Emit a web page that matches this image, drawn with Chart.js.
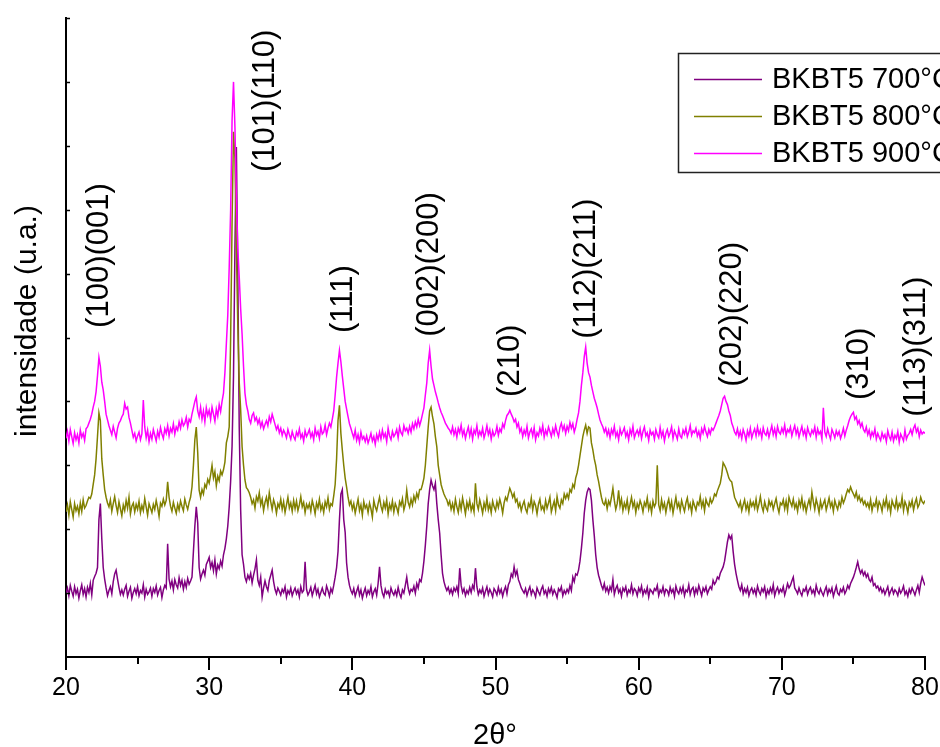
<!DOCTYPE html>
<html><head><meta charset="utf-8">
<script src="https://cdn.jsdelivr.net/npm/chart.js@4/dist/chart.umd.min.js"></script>
<style>html,body{margin:0;padding:0;background:#fff;}canvas{display:block;}</style>
</head><body>
<canvas id="c" width="940" height="747"></canvas>
<script>
// ---- data ----
const seriesNames = ['BKBT5 700°C', 'BKBT5 800°C', 'BKBT5 900°C'];
const seriesColors = ['#800080', '#808000', '#FF00FF'];
const thetaStart = 20, thetaStep = 0.1;
const xTickValues = [20, 25, 30, 35, 40, 45, 50, 55, 60, 65, 70, 75, 80];
const yTickValues = [100, 200, 300, 400, 500, 600, 700, 800, 900, 1000];

// intensity (a.u.), one value every 0.1° from 20.0 to 80.0
const int700 = [
100,108,96,112,103,95,110,99,106,92,
104,113,98,107,94,109,101,115,97,120,
126,131,140,215,240,185,140,122,108,96,
104,110,99,118,130,136,122,109,98,105,
97,106,112,95,103,109,92,101,107,99,
110,96,104,100,113,94,106,98,102,108,
95,107,101,111,97,104,109,93,105,112,
108,177,122,110,119,105,121,113,108,124,
112,120,106,118,109,123,114,119,125,165,
205,235,210,140,122,130,136,128,145,150,
156,140,148,135,152,130,144,138,150,142,
160,170,185,205,235,275,330,440,640,798,
600,360,230,160,145,125,118,128,122,131,
116,128,138,152,120,112,125,94,108,119,
110,104,120,128,136,118,106,99,108,103,
97,106,101,110,94,104,99,108,96,103,
108,99,105,94,110,101,104,149,106,97,
102,109,96,104,112,99,106,94,101,108,
100,97,111,104,95,107,101,112,125,140,
165,215,255,262,215,195,147,125,112,104,
99,107,95,103,110,97,105,92,101,108,
96,104,99,110,94,102,107,97,115,141,
112,100,94,106,99,103,95,108,101,97,
104,96,109,99,93,105,100,112,125,108,
99,106,103,111,100,115,108,121,118,131,
150,175,205,240,262,277,268,262,272,240,
215,194,160,131,118,110,104,109,100,106,
98,108,103,110,99,139,112,101,107,96,
104,99,109,101,112,106,139,110,98,105,
100,108,95,103,110,98,106,101,94,107,
103,97,109,100,106,95,104,110,99,113,
118,130,125,141,128,135,121,115,108,104,
100,107,96,104,110,98,105,101,94,108,
102,97,106,111,99,104,95,107,101,109,
98,105,100,93,107,103,110,96,104,99,
106,101,112,104,125,118,130,128,136,150,
170,194,225,245,258,264,262,245,215,190,
160,140,128,120,112,106,115,103,109,100,
110,104,121,98,107,112,101,106,95,108,
103,110,97,105,101,113,99,107,104,96,
108,102,111,97,105,100,109,94,106,103,
99,107,104,112,96,105,101,110,98,106,
104,97,109,101,106,95,111,103,99,108,
101,110,96,105,102,113,98,106,109,97,
107,100,112,104,96,108,103,110,99,105,
110,106,120,114,118,125,122,131,136,141,
150,165,180,191,185,190,165,145,131,120,
110,104,113,99,107,101,109,96,104,108,
100,106,97,111,103,98,107,102,110,95,
105,99,108,101,113,96,104,109,100,106,
102,110,97,105,115,108,112,119,125,108,
104,99,108,101,96,106,103,110,98,105,
109,100,105,97,112,103,99,107,101,96,
104,110,98,106,101,108,95,103,111,100,
97,106,102,109,99,104,112,107,115,120,
125,132,140,149,138,131,136,128,133,125,
130,121,118,125,112,115,108,111,104,109,
101,106,98,104,110,97,103,108,99,105,
102,96,107,100,104,111,98,103,95,106,
100,108,103,97,105,112,101,115,125,118,
112];

const int800 = [
227,238,222,243,231,219,240,229,236,224,
241,228,246,233,237,244,250,248,255,270,
285,310,345,382,370,310,285,262,250,241,
235,246,228,240,251,237,226,243,232,221,
238,229,245,233,250,224,236,241,227,239,
231,244,226,237,229,248,235,222,240,233,
226,239,231,245,234,220,241,236,247,238,
245,274,250,236,228,242,233,225,239,230,
244,236,229,247,238,231,242,250,266,300,
340,360,320,261,250,262,255,270,265,278,
272,285,300,280,290,268,283,276,291,285,
293,305,335,345,360,500,680,822,780,640,
520,430,387,329,300,277,265,262,257,250,
240,246,233,251,244,257,238,247,229,242,
250,236,257,243,231,246,238,225,240,234,
247,231,243,226,238,250,233,241,228,245,
232,244,229,238,251,235,242,226,239,233,
240,228,245,236,224,241,233,247,230,238,
226,243,235,249,231,240,237,252,270,310,
370,394,350,324,300,280,266,250,238,244,
231,240,225,236,247,229,238,222,243,233,
238,226,241,232,219,245,235,229,240,250,
236,228,242,233,246,224,239,231,244,227,
240,234,225,243,237,248,230,239,261,242,
235,247,238,252,244,256,249,262,262,270,
280,300,330,360,385,391,376,365,345,329,
300,285,270,262,255,250,246,238,244,231,
240,228,247,235,226,243,231,249,237,224,
242,233,245,229,238,227,272,240,231,246,
236,225,241,232,248,230,239,226,244,235,
229,243,234,247,238,225,241,250,245,255,
264,258,250,256,243,247,235,241,229,238,
244,232,226,240,235,249,230,243,237,224,
239,247,231,236,228,245,233,241,250,227,
236,244,229,251,238,233,246,240,255,248,
255,248,262,258,270,265,280,288,300,315,
330,345,355,363,350,360,358,335,324,310,
300,285,275,262,250,241,238,246,232,244,
238,250,264,245,231,240,261,236,247,229,
241,233,246,228,239,250,235,243,226,240,
233,245,238,227,242,236,249,231,240,226,
244,235,241,300,238,229,246,233,241,226,
239,247,232,243,225,238,250,234,241,229,
245,236,228,241,249,233,240,226,244,237,
230,242,238,251,235,244,229,247,240,236,
248,241,246,255,252,260,266,272,285,304,
300,295,288,280,276,274,262,250,245,240,
235,243,229,238,246,231,240,227,244,236,
242,233,247,230,239,251,236,228,243,234,
229,245,237,243,231,240,248,235,226,241,
238,246,232,244,229,250,242,236,247,233,
240,228,245,236,249,232,241,227,238,246,
235,258,243,231,247,238,226,244,233,240,
246,230,239,249,235,242,228,245,237,231,
243,236,250,241,247,255,262,258,266,260,
255,250,258,246,252,243,248,239,244,236,
241,233,246,229,240,236,247,231,243,238,
228,244,236,249,232,241,226,245,238,233,
247,231,240,235,250,229,243,237,226,242,
236,245,230,241,248,234,239,250,243,240,
245];

const int900 = [
342,353,338,356,345,334,351,340,348,335,
355,344,350,339,357,360,366,372,380,391,
400,415,440,469,455,430,418,400,380,371,
362,355,348,361,352,343,358,366,370,376,
380,397,388,391,375,366,355,344,350,338,
346,352,340,349,402,360,343,355,337,350,
341,356,347,338,353,344,359,349,342,357,
350,362,346,358,352,365,349,360,355,368,
358,371,362,366,375,360,372,368,380,390,
400,407,385,376,391,372,385,368,390,378,
386,372,391,380,369,388,377,395,384,400,
413,445,490,535,610,700,840,900,829,720,
640,595,545,505,455,413,395,385,372,366,
378,382,370,375,365,372,360,368,357,364,
370,362,376,368,380,372,364,356,362,351,
358,347,355,350,343,356,348,341,353,345,
340,352,346,357,343,349,338,354,345,350,
356,344,351,340,358,347,353,342,360,349,
352,363,348,358,366,360,372,385,410,438,
460,480,462,440,420,400,388,376,365,358,
350,343,355,339,348,336,352,341,345,337,
346,335,342,350,338,345,333,348,340,352,
341,355,344,350,337,358,346,340,353,345,
349,356,343,360,351,347,362,354,358,350,
361,352,365,357,368,360,372,362,370,380,
390,410,429,460,480,455,435,425,415,407,
398,390,383,378,372,366,362,358,355,350,
360,348,356,344,358,351,363,347,355,342,
352,360,346,357,341,355,349,362,345,353,
347,358,343,351,362,348,356,341,354,346,
350,361,347,357,352,365,359,370,378,381,
386,380,375,368,372,360,366,352,358,345,
355,348,361,343,352,357,346,359,340,351,
346,358,350,362,344,355,348,360,353,345,
357,349,362,352,345,359,366,355,362,350,
361,354,367,358,365,352,360,372,382,400,
425,445,470,485,460,445,438,425,415,405,
398,390,380,371,365,360,352,358,347,355,
343,356,349,361,345,352,340,357,348,353,
359,345,352,340,356,348,361,343,350,355,
347,357,342,353,360,346,351,339,355,348,
352,341,356,348,343,359,345,353,338,350,
356,345,351,360,342,354,348,341,357,346,
343,355,349,358,345,352,362,347,354,351,
358,346,353,342,357,350,361,352,345,356,
349,358,355,360,366,372,378,385,395,405,
408,400,395,385,378,366,360,352,348,357,
345,353,342,356,349,339,354,346,358,343,
351,357,346,360,348,355,343,359,350,347,
356,344,353,362,348,357,345,361,352,349,
358,351,363,347,356,352,360,346,355,362,
349,357,344,353,361,348,355,343,359,351,
346,355,350,360,344,357,349,353,341,390,
352,345,357,348,341,356,350,343,354,347,
353,342,349,358,346,355,362,370,376,380,
383,372,376,365,370,360,366,356,352,360,
348,355,343,352,346,357,341,350,344,339,
351,343,348,337,354,345,340,352,338,347,
342,353,336,349,344,338,355,341,347,350,
356,348,358,363,352,358,345,355,349,352,
350];

// reflection labels: text, 2θ position, intensity at the start of the (vertical) text
const peakLabels = ['(100)(001)', '(101)(110)', '(111)', '(002)(200)', '(210)', '(112)(211)', '(202)(220)', '(310)', '(113)(311)'];
const peakTheta  = [22.37, 33.90, 39.35, 45.42, 51.01, 56.32, 66.52, 75.39, 79.37];
const peakLevel  = [515, 759, 507, 501, 407, 498, 423, 402, 376];

const xTitle = '2θ°';
const yTitle = 'intensidade (u.a.)';

// ---- build ----
const FONT = "'Liberation Sans', Arial, Helvetica, sans-serif";
const seriesValues = [int700, int800, int900];
const theta = int700.map((_, i) => Math.round((thetaStart + i * thetaStep) * 10) / 10);

const datasets = seriesValues.map((vals, k) => ({
  label: seriesNames[k],
  data: vals.map((v, i) => ({x: theta[i], y: v})),
  borderColor: seriesColors[k],
  backgroundColor: seriesColors[k],
  borderWidth: 1.5,
  pointRadius: 0,
  tension: 0,
  fill: false,
  order: 3 - k
}));

const decor = {
  id: 'decor',
  afterDraw(chart) {
    const ctx = chart.ctx, xs = chart.scales.x, ys = chart.scales.y;
    const area = chart.chartArea;
    ctx.save();
    ctx.strokeStyle = '#000';
    ctx.lineWidth = 2;
    // x ticks (outward), major longer
    xTickValues.forEach(v => {
      const px = Math.round(xs.getPixelForValue(v));
      const len = (v % 10 === 0) ? 12 : 6;
      ctx.beginPath();
      ctx.moveTo(px, area.bottom);
      ctx.lineTo(px, area.bottom + 1 + len);
      ctx.stroke();
    });
    // y ticks (inward)
    yTickValues.forEach(v => {
      const py = Math.round(ys.getPixelForValue(v)) + 0.5;
      ctx.lineWidth = 1.5;
      ctx.beginPath();
      ctx.moveTo(area.left, py);
      ctx.lineTo(area.left + 4, py);
      ctx.stroke();
    });
    // reflection labels
    ctx.fillStyle = '#000';
    ctx.font = '31px ' + FONT;
    peakLabels.forEach((t, i) => {
      const px = xs.getPixelForValue(peakTheta[i]);
      const py = ys.getPixelForValue(peakLevel[i]);
      ctx.save();
      ctx.translate(px, py);
      ctx.rotate(-Math.PI / 2);
      ctx.textAlign = 'left';
      ctx.textBaseline = 'middle';
      ctx.fillText(t, 0, 0);
      ctx.restore();
    });
    // axis titles
    ctx.font = '29px ' + FONT;
    ctx.textAlign = 'center';
    ctx.textBaseline = 'alphabetic';
    ctx.fillText(xTitle, 495, 744);
    ctx.font = '30px ' + FONT;
    ctx.save();
    ctx.translate(36, 321);
    ctx.rotate(-Math.PI / 2);
    ctx.fillText(yTitle, 0, 0);
    ctx.restore();
    // legend box
    ctx.lineWidth = 1.5;
    ctx.strokeStyle = '#222';
    ctx.fillStyle = '#fff';
    ctx.fillRect(678, 53, 300, 119);
    ctx.strokeRect(678.5, 53.5, 300, 119);
    ctx.font = '29px ' + FONT;
    ctx.textAlign = 'left';
    ctx.textBaseline = 'middle';
    seriesNames.forEach((n, k) => {
      const y = 79 + k * 37;
      ctx.strokeStyle = seriesColors[k];
      ctx.lineWidth = 1.5;
      ctx.beginPath();
      ctx.moveTo(694, y + 0.5);
      ctx.lineTo(762, y + 0.5);
      ctx.stroke();
      ctx.fillStyle = '#000';
      ctx.fillText(n, 772, y + 1);
    });
    ctx.restore();
  }
};

new Chart(document.getElementById('c'), {
  type: 'line',
  data: {datasets},
  options: {
    responsive: false,
    animation: false,
    events: [],
    layout: {padding: {top: 18, right: 15, left: 0, bottom: 0}},
    plugins: {legend: {display: false}, tooltip: {enabled: false}},
    scales: {
      x: {
        type: 'linear', min: 20, max: 80,
        ticks: {stepSize: 10, color: '#000', font: {family: FONT, size: 25}, padding: 16, maxRotation: 0, autoSkip: false},
        grid: {display: true, drawOnChartArea: false, drawTicks: false},
        border: {display: true, color: '#000', width: 2},
        afterFit(s) { s.height = 90; s.paddingLeft = 0; s.paddingRight = 0; }
      },
      y: {
        type: 'linear', min: 0, max: 1000,
        ticks: {display: false},
        grid: {display: true, drawOnChartArea: false, drawTicks: false},
        border: {display: true, color: '#000', width: 2},
        afterFit(s) { s.width = 66; s.paddingTop = 0; s.paddingBottom = 0; }
      }
    }
  },
  plugins: [decor]
});
</script>
</body></html>
